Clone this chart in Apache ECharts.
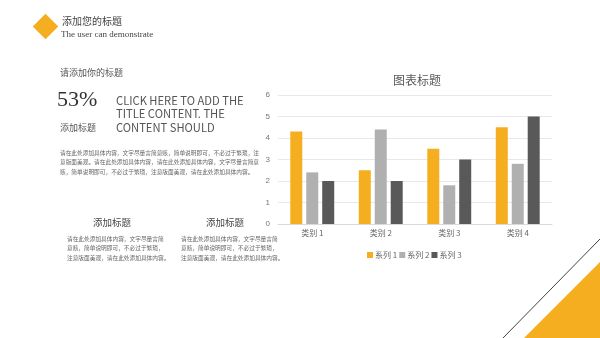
<!DOCTYPE html>
<html>
<head>
<meta charset="utf-8">
<script src="https://cdn.jsdelivr.net/npm/echarts@6/dist/echarts.min.js"></script>
<style>
  html, body { margin: 0; padding: 0; background: #fff; }
  #main { width: 600px; height: 338px; }
</style>
</head>
<body>
<div id="main"></div>
<script>
var categories = ['类别 1', '类别 2', '类别 3', '类别 4'];
var seriesNames = ['系列 1', '系列 2', '系列 3'];
var series1 = [4.3, 2.5, 3.5, 4.5];
var series2 = [2.4, 4.4, 1.8, 2.8];
var series3 = [2, 2, 3, 5];
var yTicks = { min: 0, max: 6, interval: 1 };

var orange = '#F5AE1F';
var grey = '#B0B0B0';
var dark = '#595959';
var cjk = '"Noto Sans CJK SC", sans-serif';
var para = '请在此处添加具体内容，文字尽量言简意赅，简单说明即可，不必过于繁琐，注\n意版面美观。请在此处添加具体内容，请在此处添加具体内容，文字尽量言简意\n赅，简单说明即可，不必过于繁琐，注意版面美观，请在此处添加具体内容。';
var para2 = '请在此处添加具体内容，文字尽量言简\n意赅，简单说明即可，不必过于繁琐，\n注意版面美观，请在此处添加具体内容。';

var chart = echarts.init(document.getElementById('main'), null, { renderer: 'canvas' });
chart.setOption({
  animation: false,
  backgroundColor: '#fff',
  title: {
    text: '图表标题',
    left: 412, top: 69, textAlign: 'center',
    textStyle: { fontFamily: cjk, fontSize: 12, fontWeight: 'normal', color: '#595959' }
  },
  legend: {
    data: seriesNames,
    left: 362, top: 246,
    itemWidth: 6, itemHeight: 6, itemGap: 2,
    icon: 'rect',
    textStyle: { fontFamily: cjk, fontSize: 8, color: '#666', padding: [0, 0, 0, -3] }
  },
  grid: { left: 278, right: 48, top: 95, bottom: 114 },
  xAxis: {
    type: 'category',
    data: categories,
    axisTick: { show: false },
    axisLine: { lineStyle: { color: '#d9d9d9' } },
    axisLabel: { fontFamily: cjk, fontSize: 8, color: '#666', margin: 5 }
  },
  yAxis: {
    type: 'value',
    min: yTicks.min, max: yTicks.max, interval: yTicks.interval,
    axisLine: { show: false },
    axisTick: { show: false },
    axisLabel: { fontSize: 8, color: '#777', margin: 8 },
    splitLine: { lineStyle: { color: '#e8e8e8' } }
  },
  series: [
    { name: seriesNames[0], type: 'bar', data: series1, barWidth: 12, barGap: '33%', itemStyle: { color: orange } },
    { name: seriesNames[1], type: 'bar', data: series2, barWidth: 12, barGap: '33%', itemStyle: { color: grey } },
    { name: seriesNames[2], type: 'bar', data: series3, barWidth: 12, barGap: '33%', itemStyle: { color: dark } }
  ],
  graphic: [
    // 左上角菱形
    { type: 'rect', x: 45.5, y: 26.5, rotation: Math.PI / 4, shape: { x: -9, y: -9, width: 18, height: 18 }, style: { fill: orange } },
    { type: 'text', left: 62, top: 16, style: { text: '添加您的标题', font: '10px ' + cjk, fill: '#444' } },
    { type: 'text', left: 61, top: 30, style: { text: 'The user can demonstrate', font: '9px "Liberation Serif", serif', fill: '#444' } },
    // 左侧内容
    { type: 'text', left: 60, top: 68, style: { text: '请添加你的标题', font: '9px ' + cjk, fill: '#555' } },
    { type: 'text', left: 57, top: 89, style: { text: '53%', font: '22px "Liberation Serif", serif', fill: '#333' } },
    { type: 'text', left: 116, top: 93.5, style: { text: 'CLICK HERE TO ADD THE\nTITLE CONTENT. THE\nCONTENT SHOULD', font: '11.2px ' + cjk, lineHeight: 13.5, fill: '#555' } },
    { type: 'text', left: 60, top: 123, style: { text: '添加标题', font: '9px ' + cjk, fill: '#555' } },
    { type: 'text', left: 60, top: 148, style: { text: para, font: '5.7px ' + cjk, lineHeight: 9.5, fill: '#666' } },
    { type: 'text', x: 112, y: 218, style: { text: '添加标题', font: '9.5px ' + cjk, fill: '#444', align: 'center' } },
    { type: 'text', left: 67, top: 234, style: { text: para2, font: '5.7px ' + cjk, lineHeight: 9.5, fill: '#666' } },
    { type: 'text', x: 225, y: 218, style: { text: '添加标题', font: '9.5px ' + cjk, fill: '#444', align: 'center' } },
    { type: 'text', left: 181, top: 234, style: { text: para2, font: '5.7px ' + cjk, lineHeight: 9.5, fill: '#666' } },
    // 右下角装饰
    { type: 'line', shape: { x1: 503, y1: 338, x2: 600, y2: 239 }, style: { stroke: '#444', lineWidth: 1 } },
    { type: 'polygon', shape: { points: [[524, 338], [600, 338], [600, 262]] }, style: { fill: orange } }
  ]
});
</script>
</body>
</html>
